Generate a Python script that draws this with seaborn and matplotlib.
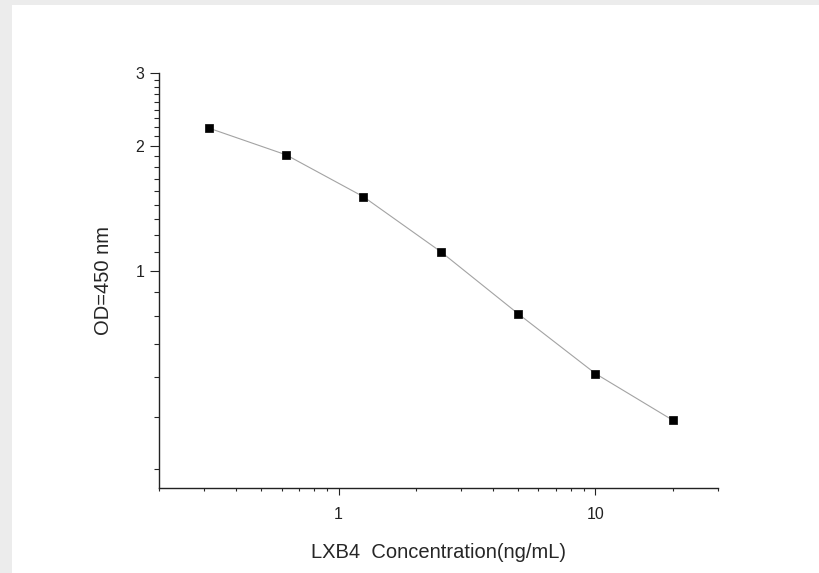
import numpy as np
import pandas as pd
import matplotlib
matplotlib.use("Agg")
import matplotlib.pyplot as plt
import matplotlib.ticker as mticker
from matplotlib.patches import Rectangle
import seaborn as sns

# standard curve values
concentration = [0.3125, 0.625, 1.25, 2.5, 5, 10, 20]
od_450 = [2.21, 1.905, 1.51, 1.113, 0.789, 0.566, 0.437]

x_major = [1, 10]
y_major = [1, 2, 3]

df = pd.DataFrame({'conc': concentration, 'od': od_450})

sns.set_style('ticks')
plt.rcParams['font.family'] = ['Liberation Sans', 'DejaVu Sans']

fig = plt.figure(figsize=(8.19, 5.73), dpi=100, facecolor='#ececec')
# white page on the light gray frame
fig.patches.append(Rectangle((12 / 819, 0), 1, 568 / 573, transform=fig.transFigure,
                             facecolor='white', edgecolor='none', zorder=-10))
ax = fig.add_axes([159 / 819, 1 - 488 / 573, (718 - 159) / 819, (488 - 73) / 573])
ax.set_zorder(5)
ax.set_facecolor('white')

sns.lineplot(data=df, x='conc', y='od', ax=ax, color='#a3a3a3', linewidth=0.8,
             zorder=2)
sns.scatterplot(data=df, x='conc', y='od', ax=ax, marker='s', s=36, color='black',
                edgecolor='black', linewidth=0.5, zorder=3)

ax.set_xscale('log')
ax.set_yscale('log')
ax.set_xlim(0.2, 30)
ax.set_ylim(0.3, 3)

ax.xaxis.set_major_locator(mticker.FixedLocator(x_major))
ax.xaxis.set_major_formatter(mticker.FixedFormatter([str(v) for v in x_major]))
ax.xaxis.set_minor_locator(mticker.LogLocator(base=10, subs=np.arange(2, 10)))
ax.xaxis.set_minor_formatter(mticker.NullFormatter())

ax.yaxis.set_major_locator(mticker.FixedLocator(y_major))
ax.yaxis.set_major_formatter(mticker.FixedFormatter([str(v) for v in y_major]))
y_minor = [k / 9 for k in range(3, 28) if k % 9 != 0]
ax.yaxis.set_minor_locator(mticker.FixedLocator(y_minor))
ax.yaxis.set_minor_formatter(mticker.NullFormatter())

ax.tick_params(axis='x', which='major', direction='out', length=4.7, width=0.8,
               labelsize=11.5, pad=9, colors='#222222')
ax.tick_params(axis='x', which='minor', direction='out', length=2.5, width=0.8)
ax.tick_params(axis='y', which='major', direction='out', length=6.7, width=0.8,
               labelsize=11.5, pad=4, colors='#222222')
ax.tick_params(axis='y', which='minor', direction='out', length=3.4, width=0.8)

sns.despine(ax=ax)
for side in ['left', 'bottom']:
    ax.spines[side].set_linewidth(1.0)
    ax.spines[side].set_color('#222222')

ax.set_xlabel('LXB4  Concentration(ng/mL)', fontsize=14.5, labelpad=15)
ax.set_ylabel('OD=450 nm', fontsize=14.5, labelpad=16)

fig.savefig('out.png', dpi=100, facecolor=fig.get_facecolor())
